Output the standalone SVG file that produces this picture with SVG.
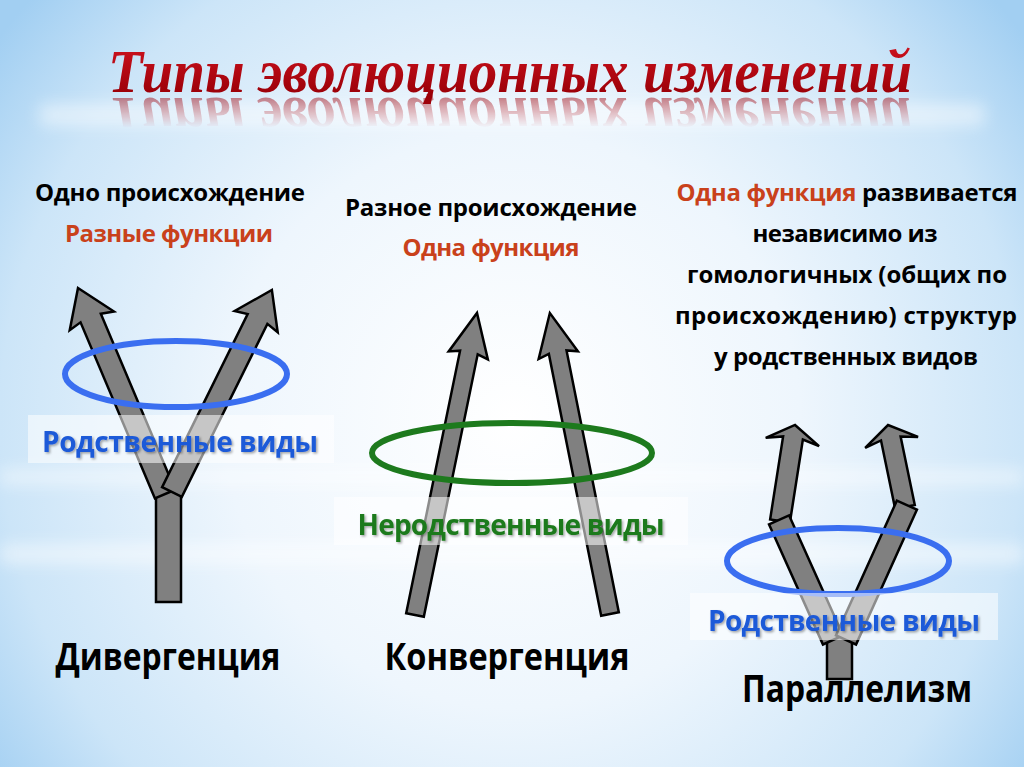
<svg xmlns="http://www.w3.org/2000/svg" xmlns:xlink="http://www.w3.org/1999/xlink" width="1024" height="767" viewBox="0 0 1024 767">
  <defs>
    <radialGradient id="bg" cx="512" cy="420" r="640" gradientUnits="userSpaceOnUse">
      <stop offset="0" stop-color="#ffffff"/>
      <stop offset="0.45" stop-color="#eef6fd"/>
      <stop offset="0.8" stop-color="#cce5f8"/>
      <stop offset="1" stop-color="#a2cff2"/>
    </radialGradient>
    <linearGradient id="titleFill" x1="0" y1="50" x2="0" y2="95" gradientUnits="userSpaceOnUse">
      <stop offset="0" stop-color="#c8101c"/>
      <stop offset="1" stop-color="#9a0008"/>
    </linearGradient>
    <linearGradient id="reflGrad" x1="0" y1="94" x2="0" y2="128" gradientUnits="userSpaceOnUse">
      <stop offset="0" stop-color="#ffffff" stop-opacity="0.6"/>
      <stop offset="1" stop-color="#ffffff" stop-opacity="0"/>
    </linearGradient>
    <mask id="reflMask" maskUnits="userSpaceOnUse" x="0" y="0" width="1024" height="767">
      <rect x="0" y="94" width="1024" height="45" fill="url(#reflGrad)"/>
    </mask>
    <filter id="blur" x="-20%" y="-200%" width="140%" height="500%">
      <feGaussianBlur stdDeviation="8"/>
    </filter>
    <filter id="shadow" x="-5%" y="-20%" width="110%" height="150%">
      <feDropShadow dx="1.5" dy="1.5" stdDeviation="0.8" flood-color="#000000" flood-opacity="0.35"/>
    </filter>
    <style>
      .arrow { fill: #808080; stroke: #000000; stroke-width: 2.5; stroke-linejoin: miter; }
      .t { font-family: "Open Sans", "Noto Sans", "DejaVu Sans", sans-serif; font-weight: bold; text-anchor: middle; }
      .hdr { font-size: 24px; fill: #000000; }
      .red { fill: #c9411b; }
      .big { font-size: 37px; fill: #000000; }
      .lbl { font-size: 28px; }
      .box { fill: #ffffff; fill-opacity: 0.55; }
      .ring { fill: none; stroke-width: 6; }
    </style>
  </defs>

  <!-- background -->
  <rect x="0" y="0" width="1024" height="767" fill="url(#bg)"/>
  <g opacity="0.5" filter="url(#blur)">
    <rect x="40" y="105" width="944" height="20" fill="#ffffff"/>
    <rect x="0" y="470" width="1024" height="14" fill="#ffffff"/>
    <rect x="0" y="545" width="1024" height="18" fill="#ffffff"/>
  </g>

  <!-- title -->
  <g id="title">
    <text id="titleText" x="510" y="92" textLength="804" lengthAdjust="spacingAndGlyphs" font-family="'Liberation Serif', 'DejaVu Serif', serif" font-style="italic" font-weight="bold" font-size="62" fill="url(#titleFill)" text-anchor="middle">Типы эволюционных изменений</text>
    <g mask="url(#reflMask)" opacity="0.9">
      <use xlink:href="#titleText" href="#titleText" transform="translate(0,190) scale(1,-1)"/>
    </g>
  </g>

  <!-- Divergence -->
  <g id="divergence">
    <text class="t hdr" x="170" y="201" textLength="270">Одно происхождение</text>
    <text class="t hdr red" x="169" y="242" textLength="208">Разные функции</text>
    <g id="div-connectors">
      <rect class="arrow" x="156" y="486" width="25" height="116"/>
      <polygon class="arrow" transform="translate(165,494) rotate(-22.9)" points="-11,0 -11,-191 -24,-188 0,-223.6 24,-188 11,-191 11,0"/>
      <polygon class="arrow" transform="translate(172,492) rotate(26.3)" points="-11,0 -11,-193 -24,-190 0,-225.4 24,-190 11,-193 11,0"/>
    </g>
    <ellipse class="ring" cx="176" cy="374" rx="111" ry="33" stroke="#3a6ef0"/>
    <rect class="box" x="28" y="415" width="306" height="48"/>
    <text class="t lbl" x="180" y="452" textLength="276" fill="#1f5ad8" filter="url(#shadow)">Родственные виды</text>
    <text class="t big" x="168" y="670" textLength="225" lengthAdjust="spacingAndGlyphs">Дивергенция</text>
  </g>

  <!-- Convergence -->
  <g id="convergence">
    <text class="t hdr" x="491" y="216" textLength="292">Разное происхождение</text>
    <text class="t hdr red" x="491" y="256" textLength="177">Одна функция</text>
    <g id="conv-connectors">
      <polygon class="arrow" transform="translate(415,615) rotate(11.6)" points="-9,0 -9,-268 -20,-265 0,-308.3 20,-265 9,-268 9,0"/>
      <polygon class="arrow" transform="translate(610,614) rotate(-11.3)" points="-9,0 -9,-267 -20,-264 0,-306.9 20,-264 9,-267 9,0"/>
    </g>
    <ellipse class="ring" cx="512" cy="453" rx="140" ry="30" stroke="#1d7a1d"/>
    <rect class="box" x="334" y="497" width="354" height="48"/>
    <text class="t lbl" x="511" y="535" textLength="307" fill="#1c7a1c" filter="url(#shadow)">Неродственные виды</text>
    <text class="t big" x="507" y="670" textLength="245" lengthAdjust="spacingAndGlyphs">Конвергенция</text>
  </g>

  <!-- Parallelism -->
  <g id="parallelism">
    <text class="t hdr" x="847" y="201" textLength="341"><tspan class="red">Одна функция</tspan> развивается</text>
    <text class="t hdr" x="845" y="242" textLength="185">независимо из</text>
    <text class="t hdr" x="847" y="283" textLength="320">гомологичных (общих по</text>
    <text class="t hdr" x="846" y="324" textLength="342">происхождению) структур</text>
    <text class="t hdr" x="846" y="365" textLength="264">у родственных видов</text>
    <g id="par-connectors">
      <polygon class="arrow" transform="translate(780,521) rotate(8.9)" points="-10,0 -10,-84 -27,-80 0,-97.2 27,-80 10,-84 10,0"/>
      <polygon class="arrow" transform="translate(905,507) rotate(-11.7)" points="-10,0 -10,-70 -27,-66 0,-83.7 27,-66 10,-70 10,0"/>
      <rect class="arrow" x="827" y="636" width="25" height="43"/>
      <polygon class="arrow" transform="translate(833,640) rotate(-24.2)" points="-11,0 -11,-131.6 11,-131.6 11,0"/>
      <polygon class="arrow" transform="translate(846,640) rotate(24.3)" points="-11,0 -11,-148 11,-148 11,0"/>
    </g>
    <ellipse class="ring" cx="838" cy="561" rx="111" ry="33" stroke="#3a6ef0"/>
    <rect class="box" x="690" y="593" width="308" height="47"/>
    <text class="t lbl" x="844" y="631" textLength="272" fill="#1f5ad8" filter="url(#shadow)">Родственные виды</text>
    <text class="t big" x="857" y="702" textLength="230" lengthAdjust="spacingAndGlyphs">Параллелизм</text>
  </g>
</svg>
